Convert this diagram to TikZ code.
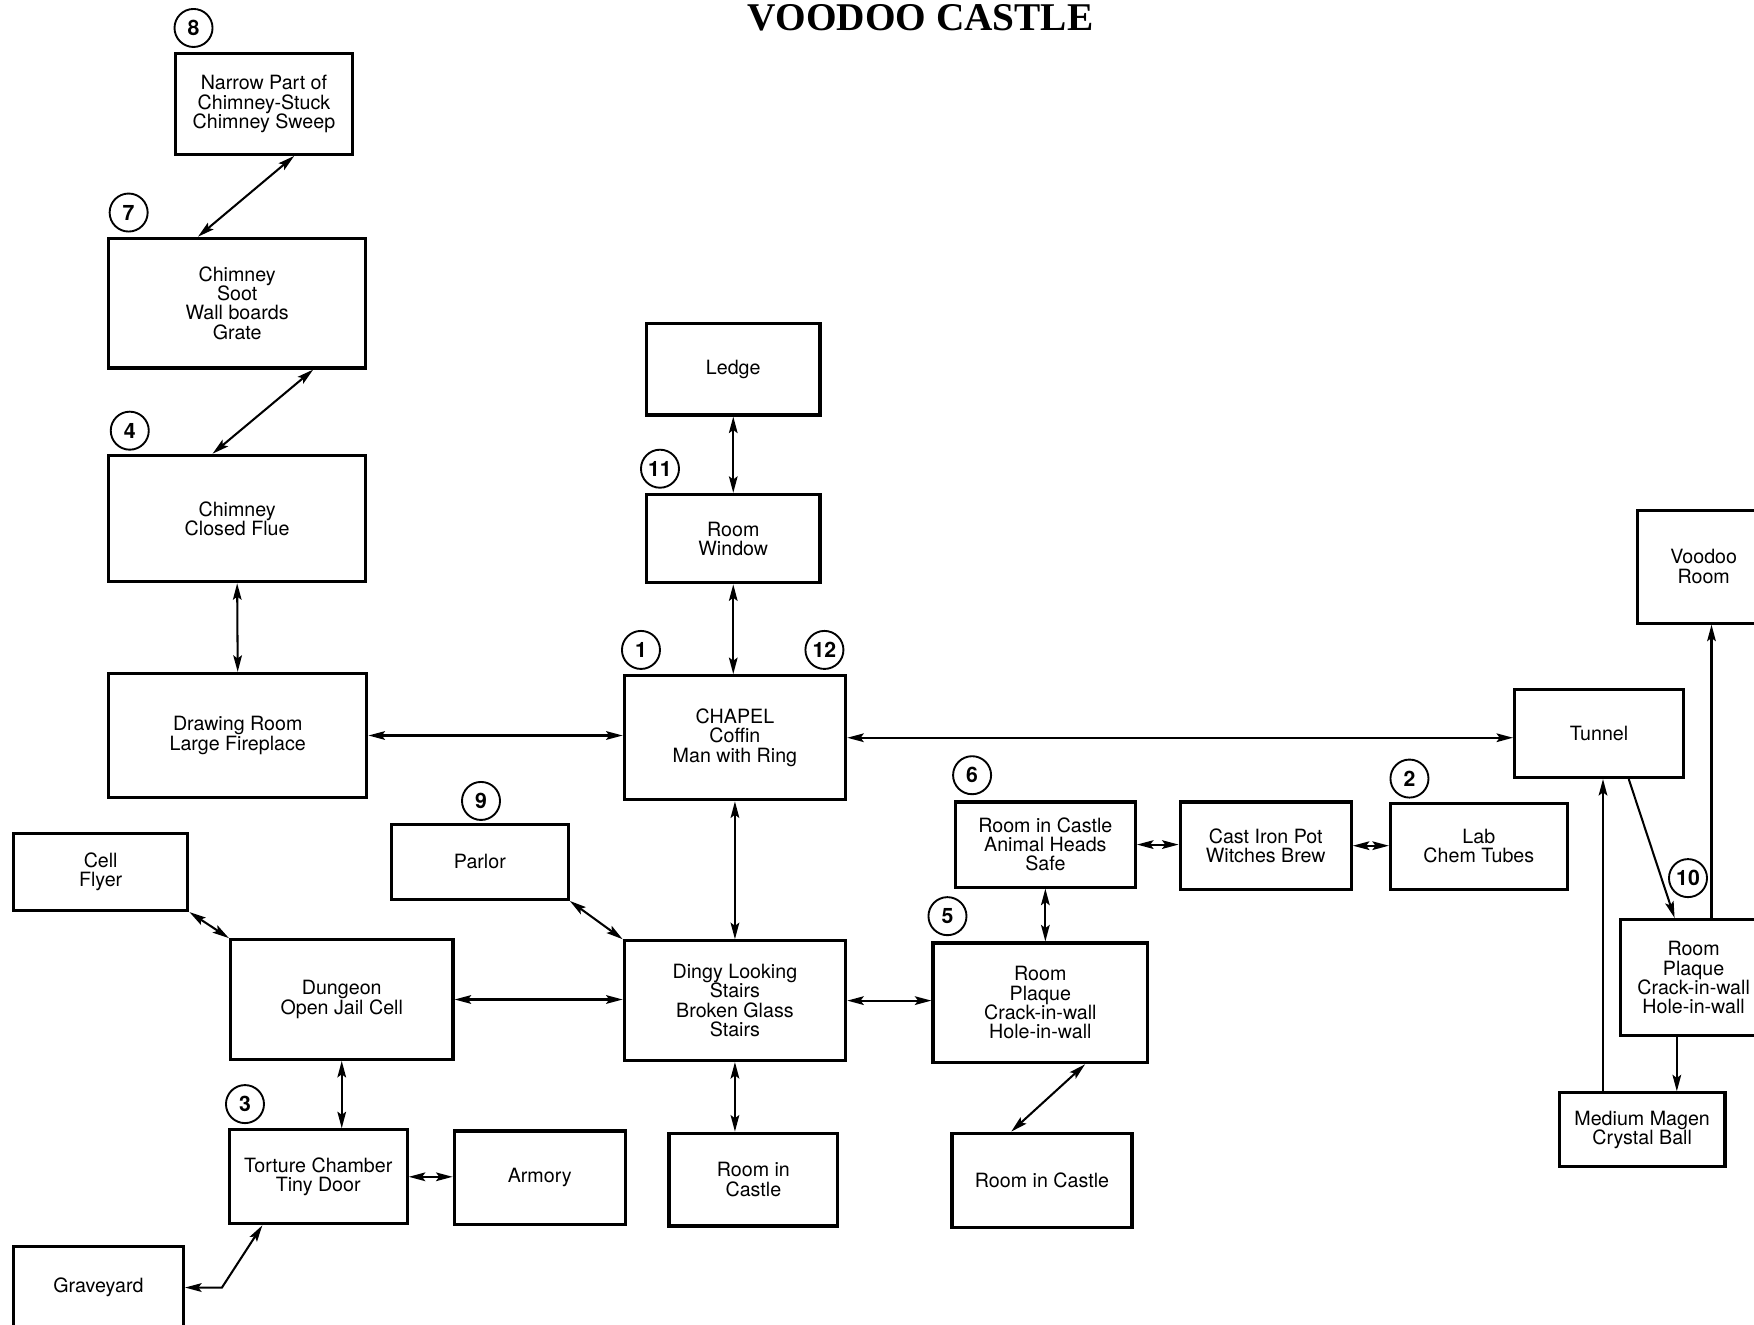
\documentclass[tikz,border=0pt]{standalone}
\usepackage{fontspec}
\setmainfont{TeX Gyre Heros}
\newfontfamily\titlefont{Liberation Serif}
\usetikzlibrary{arrows.meta, calc}

\begin{document}
\begin{tikzpicture}[
    x=0.05cm, y=-0.05cm,
    box/.style={rectangle, draw=black, line width=4pt, inner sep=0pt, align=center, font=\fontsize{25}{24.5}\selectfont},
    num/.style={circle, draw=black, line width=2.4pt, minimum size=1.7cm, inner sep=0pt, font=\fontsize{27}{27}\selectfont\bfseries},
    arr/.style={{Stealth[length=21pt, width=11pt, inset=4pt]}-{Stealth[length=21pt, width=11pt, inset=4pt]}, line width=2.6pt},
    oneway/.style={-{Stealth[length=21pt, width=11pt, inset=4pt]}, line width=2.6pt}
  ]
    \useasboundingbox (0,0) rectangle (1568,1184);

    % Title
    \node[font=\titlefont\bfseries\fontsize{50}{50}\selectfont, anchor=base] (title) at (823,27) {VOODOO CASTLE};

    % Nodes
    \node[box, minimum width=7.9cm, minimum height=4.5cm] (narrow) at (236,93) {Narrow Part of\\Chimney-Stuck\\Chimney Sweep};
    \node[box, minimum width=11.5cm, minimum height=5.8cm] (soot) at (212,271) {Chimney\\Soot\\Wall boards\\Grate};
    \node[box, minimum width=11.5cm, minimum height=5.65cm] (flue) at (212,463.5) {Chimney\\Closed Flue};
    \node[box, minimum width=11.55cm, minimum height=5.55cm] (drawing) at (212.5,657.5) {Drawing Room\\Large Fireplace};
    \node[box, minimum width=7.75cm, minimum height=4.1cm] (ledge) at (655.5,330) {Ledge};
    \node[box, minimum width=7.75cm, minimum height=3.95cm] (window) at (655.5,481.5) {Room\\Window};
    \node[box, minimum width=9.9cm, minimum height=5.55cm] (chapel) at (657,659.5) {CHAPEL\\Coffin\\Man with Ring};
    \node[box, minimum width=7.55cm, minimum height=3.95cm] (tunnel) at (1429.5,655.5) {Tunnel};
    \node[box, minimum width=5.9cm, minimum height=5.05cm] (voodoo) at (1523,506.5) {Voodoo\\Room};
    \node[box, minimum width=7.9cm, minimum height=3.35cm] (parlor) at (429,770.5) {Parlor};
    \node[box, minimum width=7.8cm, minimum height=3.45cm] (cell) at (90,779.5) {Cell\\Flyer};
    \node[box, minimum width=9.95cm, minimum height=5.35cm] (dungeon) at (305.5,893.5) {Dungeon\\Open Jail Cell};
    \node[box, minimum width=9.9cm, minimum height=5.35cm] (dingy) at (657,894.5) {Dingy Looking\\Stairs\\Broken Glass\\Stairs};
    \node[box, minimum width=8.05cm, minimum height=3.8cm] (heads) at (934.5,755) {Room in Castle\\Animal Heads\\Safe};
    \node[box, minimum width=7.65cm, minimum height=3.9cm] (pot) at (1131.5,756) {Cast Iron Pot\\Witches Brew};
    \node[box, minimum width=7.9cm, minimum height=3.85cm] (lab) at (1322,756.5) {Lab\\Chem Tubes};
    \node[box, minimum width=9.6cm, minimum height=5.35cm] (plaqueA) at (930,896.5) {Room\\Plaque\\Crack-in-wall\\Hole-in-wall};
    \node[box, minimum width=6.5cm, minimum height=5.2cm] (plaqueB) at (1514,874) {Room\\Plaque\\Crack-in-wall\\Hole-in-wall};
    \node[box, minimum width=7.4cm, minimum height=3.3cm] (medium) at (1468,1010) {Medium Magen\\Crystal Ball};
    \node[box, minimum width=7.95cm, minimum height=4.2cm] (torture) at (284.5,1052) {Torture Chamber\\Tiny Door};
    \node[box, minimum width=7.65cm, minimum height=4.2cm] (armory) at (482.5,1053) {Armory};
    \node[box, minimum width=7.55cm, minimum height=4.15cm] (castleA) at (673.5,1054.5) {Room in\\Castle};
    \node[box, minimum width=8.05cm, minimum height=4.2cm] (castleB) at (931.5,1055) {Room in Castle};
    \node[box, minimum width=7.6cm, minimum height=3.7cm] (graveyard) at (88,1151) {Graveyard};

    % Numbers
    \node[num] (n8) at (173,25) {8};
    \node[num] (n7) at (115,190) {7};
    \node[num] (n4) at (116,385) {4};
    \node[num] (n11) at (590,419) {11};
    \node[num] (n1) at (573,581) {1};
    \node[num] (n12) at (737,581) {12};
    \node[num] (n9) at (430,716) {9};
    \node[num] (n6) at (869,693) {6};
    \node[num] (n2) at (1260,696) {2};
    \node[num] (n5) at (847,819) {5};
    \node[num] (n10) at (1509,785) {10};
    \node[num] (n3) at (219,987) {3};

    % Connections
    \draw[arr] ($(narrow.south)+(27,0)$) -- ($(soot.north)+(-35,0)$);
    \draw[arr] ($(soot.south)+(68,0)$) -- ($(flue.north)+(-22,0)$);
    \draw[arr] (flue.south) -- (drawing.north);
    \draw[arr] (drawing.east) -- (drawing.east -| chapel.west);
    \draw[arr] (ledge.south) -- (window.north);
    \draw[arr] (window.south) -- (window.south |- chapel.north);
    \draw[arr] (chapel.east) -- (chapel.east -| tunnel.west);
    \draw[arr] (chapel.south) -- (dingy.north);
    \draw[arr] (parlor.south east) -- (dingy.north west);
    \draw[arr] (cell.south east) -- (dungeon.north west);
    \draw[arr] (dungeon.east) -- (dungeon.east -| dingy.west);
    \draw[arr] (dingy.east) -- (dingy.east -| plaqueA.west);
    \draw[arr] (dingy.south) -- (dingy.south |- castleA.north);
    \draw[arr] (dungeon.south) -- (dungeon.south |- torture.north);
    \draw[arr] (torture.east) -- (torture.east -| armory.west);
    \draw[arr] ($(torture.south)+(-50,0)$) -- ($(graveyard.east)+(33,0)$) -- (graveyard.east);
    \draw[arr] (heads.east) -- (heads.east -| pot.west);
    \draw[arr] (pot.east) -- (pot.east -| lab.west);
    \draw[arr] (heads.south) -- (heads.south |- plaqueA.north);
    \draw[arr] ($(plaqueA.south)+(40,0)$) -- ($(castleB.north)+(-27.5,0)$);

    % one-way passages round the tunnel
    \coordinate (toVoodoo) at ($(plaqueB.north)+(16,0)$);
    \coordinate (toMedium) at ($(plaqueB.south)+(-15,0)$);
    \coordinate (toTunnel) at ($(medium.north)+(-35,0)$);
    \draw[oneway] ($(tunnel.south)+(26.5,0)$) -- ($(plaqueB.north)+(-17,0)$);
    \draw[oneway] (toVoodoo) -- (toVoodoo |- voodoo.south);
    \draw[oneway] (toMedium) -- (toMedium |- medium.north);
    \draw[oneway] (toTunnel) -- (toTunnel |- tunnel.south);
\end{tikzpicture}
\end{document}
